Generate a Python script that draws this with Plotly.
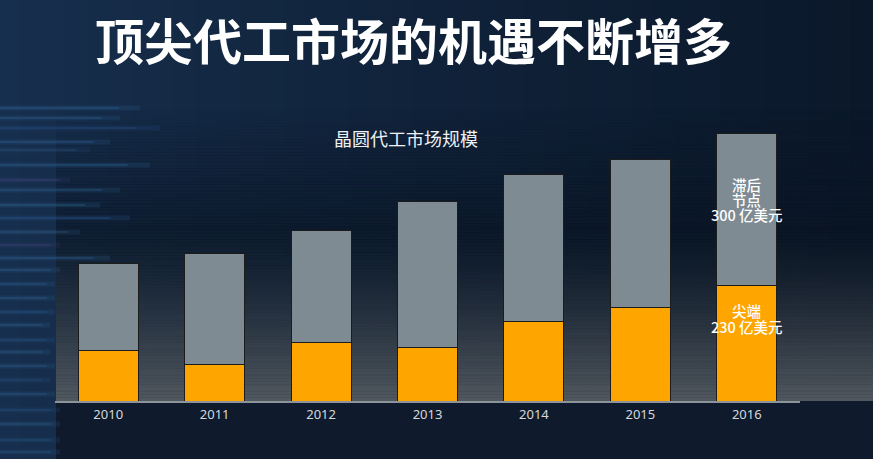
import plotly.graph_objects as go

years = ["2010", "2011", "2012", "2013", "2014", "2015", "2016"]
leading_edge = [101, 73, 117, 107, 157, 185, 230]   # 尖端 (亿美元)
trailing_node = [171, 219, 222, 288, 293, 295, 300]  # 滞后节点 (亿美元)

title_text = "顶尖代工市场的机遇不断增多"
subtitle_text = "晶圆代工市场规模"

W, H = 873, 459
ML, MR, MT, MB = 55, 73, 120, 58
PW, PH = W - ML - MR, H - MT - MB
YMAX = 557.5

xpos = list(range(len(years)))

def px(x):
    return (x - ML) / PW

def py(y):
    return (H - MB - y) / PH

def hexc(c):
    return tuple(int(c[i:i + 2], 16) for i in (1, 3, 5))

def mix(a, b, t):
    a, b = hexc(a), hexc(b)
    return "rgb(%d,%d,%d)" % tuple(round(a[i] + (b[i] - a[i]) * t) for i in range(3))

shapes = []
# base: horizontal gradient, lighter navy to the left
n = 40
for i in range(n):
    x0 = W * i / n
    x1 = W * (i + 1) / n
    t = ((i + 0.5) / n) ** 0.8
    shapes.append(dict(type="rect", xref="paper", yref="paper", layer="below",
                       x0=px(x0), x1=px(x1 + 1), y0=py(H + 1), y1=py(0),
                       fillcolor=mix("#17304f", "#0b182a", t), line=dict(width=0)))
# smooth darkening then grey glow toward the baseline
top_y, base_y = 110, 401
steps = 90
for i in range(steps):
    y0 = top_y + (base_y - top_y) * i / steps
    y1 = top_y + (base_y - top_y) * (i + 1) / steps
    ym = (y0 + y1) / 2
    dark = 0.5 * min(1.0, (ym - top_y) / 120)
    shapes.append(dict(type="rect", xref="paper", yref="paper", layer="below",
                       x0=px(56), x1=px(W + 1), y0=py(y1 + 0.5), y1=py(y0),
                       fillcolor="#08111e", opacity=dark, line=dict(width=0)))
    if ym > 225:
        g = ((ym - 225) / (base_y - 225)) ** 1.5
        shapes.append(dict(type="rect", xref="paper", yref="paper", layer="below",
                           x0=px(56), x1=px(W + 1), y0=py(y1 + 0.5), y1=py(y0),
                           fillcolor="#565d63", opacity=0.93 * g, line=dict(width=0)))
shapes.append(dict(type="rect", xref="paper", yref="paper", layer="below",
                   x0=px(56), x1=px(W + 1), y0=py(H + 1), y1=py(401),
                   fillcolor="#0f1b2c", line=dict(width=0)))
# left blurry streaks
streaks = [(108, "#2a5a8c", 1.0, 140), (118, "#2e6090", 0.8, 120), (128, "#23497a", 1.0, 160),
           (142, "#3468a0", 0.7, 110), (150, "#2e5a88", 0.6, 90), (165, "#2d5d8e", 0.9, 150),
           (180, "#4a4a88", 0.6, 70), (190, "#2c5e8e", 0.8, 120), (205, "#336a9c", 0.7, 100),
           (218, "#28558a", 0.9, 130), (232, "#3a6c9c", 0.6, 80), (245, "#4a4582", 0.6, 60),
           (258, "#2c5e90", 0.9, 110), (270, "#346898", 0.7, 60), (284, "#2a5a8a", 0.9, 55),
           (298, "#336898", 0.7, 55), (312, "#2a5a8c", 0.8, 55), (325, "#346898", 0.7, 50),
           (340, "#285686", 0.8, 55), (352, "#326494", 0.7, 50), (366, "#2c5e8e", 0.8, 55),
           (380, "#275482", 0.7, 50), (394, "#2e5e8e", 0.8, 55), (410, "#285686", 0.7, 60),
           (424, "#336696", 0.7, 60), (440, "#275484", 0.8, 60), (452, "#2c5e8e", 0.7, 60)]
for y, c, op, ln in streaks:
    for k, (w, o) in enumerate([(5, 0.25), (2, 0.4)]):
        shapes.append(dict(type="rect", xref="paper", yref="paper", layer="below",
                           x0=px(0), x1=px(ln * (1 - 0.15 * k)), y0=py(y + w / 2), y1=py(y - w / 2),
                           fillcolor=c, opacity=op * o, line=dict(width=0)))

fig = go.Figure()
fig.add_trace(go.Bar(x=xpos, y=leading_edge, name="尖端", width=0.565,
                     marker=dict(color="#FFA500", line=dict(color="#1c1c1c", width=1))))
fig.add_trace(go.Bar(x=xpos, y=trailing_node, name="滞后节点", width=0.565,
                     marker=dict(color="#7e8b93", line=dict(color="#1c1c1c", width=1))))

ann = [
    dict(text=title_text, x=px(413), y=py(38), xref="paper", yref="paper", showarrow=False,
         xanchor="center", yanchor="middle",
         font=dict(size=49, color="white", family="Noto Sans CJK SC", weight="bold")),
    dict(text=subtitle_text, x=px(406), y=py(138), xref="paper", yref="paper", showarrow=False,
         xanchor="center", yanchor="middle",
         font=dict(size=18, color="#eef0f2", family="Noto Sans CJK SC")),
]
label_font = dict(size=14.5, color="white", family="Noto Sans CJK SC", weight=500)
last = xpos[-1]
for i, line in enumerate(["滞后", "节点", "%d 亿美元" % trailing_node[-1]]):
    ann.append(dict(text=line, x=last, y=leading_edge[-1] + trailing_node[-1] * 0.665 - i * 30,
                    xref="x", yref="y", showarrow=False, xanchor="center", yanchor="middle",
                    font=label_font))
for i, line in enumerate(["尖端", "%d 亿美元" % leading_edge[-1]]):
    ann.append(dict(text=line, x=last, y=leading_edge[-1] * 0.78 - i * 31,
                    xref="x", yref="y", showarrow=False, xanchor="center", yanchor="middle",
                    font=label_font))

fig.update_layout(
    width=W, height=H,
    margin=dict(l=ML, r=MR, t=MT, b=MB),
    barmode="stack",
    paper_bgcolor="#0f1f35", plot_bgcolor="rgba(0,0,0,0)",
    showlegend=False,
    shapes=shapes, annotations=ann,
    xaxis=dict(range=[-0.5, len(years) - 0.5], tickvals=xpos, ticktext=years,
               showline=True, linecolor="#8c949b", linewidth=2, showgrid=False,
               ticks="", tickfont=dict(size=13, color="#d4d8dc", family="Noto Sans"),
               zeroline=False),
    yaxis=dict(range=[0, YMAX], visible=False, showgrid=False, zeroline=False),
)

fig.write_html("out.html", config={"displayModeBar": False},
               post_script="document.body.style.margin='0';document.body.style.overflow='hidden';")
